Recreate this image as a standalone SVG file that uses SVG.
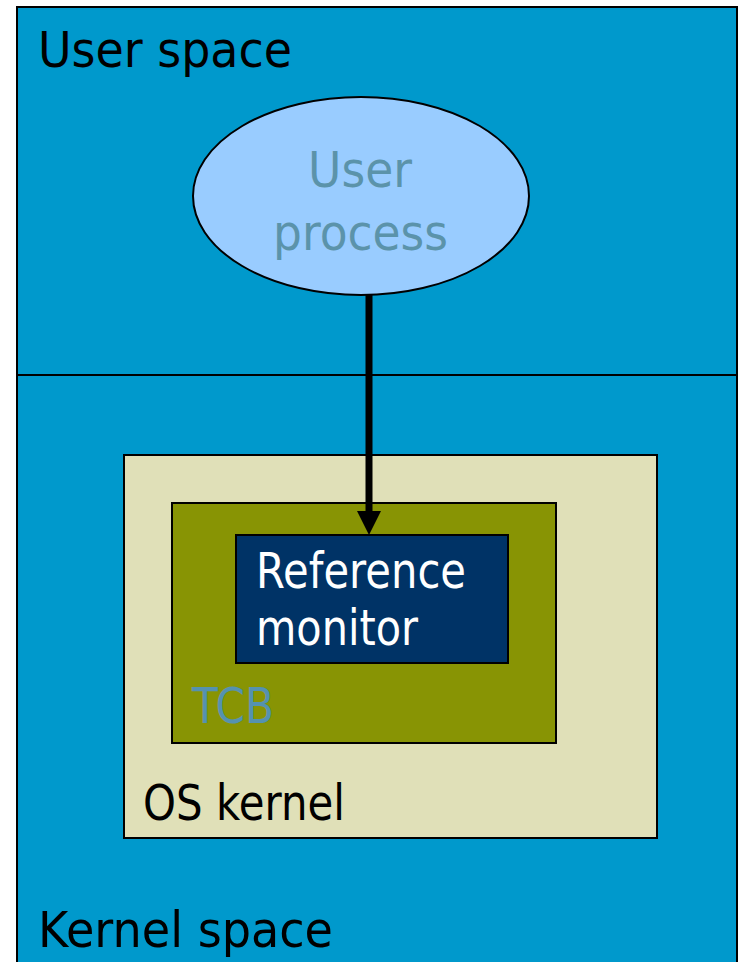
<svg xmlns="http://www.w3.org/2000/svg" width="742" height="962" viewBox="0 0 742 962">
  <style>
    text { font-family: "DejaVu Sans", "Liberation Sans", sans-serif; font-size: 50px; }
    .label { fill: #000000; }
    .frame { stroke: #000000; stroke-width: 2; }
  </style>
  <defs>
    <marker id="arrowhead" markerUnits="userSpaceOnUse" markerWidth="26" markerHeight="24" refX="0" refY="12" orient="auto">
      <path d="M0,0 L24,12 L0,24 Z" fill="#000000"/>
    </marker>
  </defs>
  <rect width="742" height="962" fill="#ffffff"/>

  <!-- address spaces -->
  <g id="spaces">
    <rect class="frame" x="17" y="7" width="720" height="1000" fill="#0099cc"/>
    <line class="frame" x1="17" y1="375" x2="737" y2="375"/>
    <text class="label" x="38" y="67" textLength="254" lengthAdjust="spacingAndGlyphs">User space</text>
    <text class="label" x="38" y="947" textLength="295" lengthAdjust="spacingAndGlyphs">Kernel space</text>
  </g>

  <g id="user-process">
    <ellipse class="frame" cx="361" cy="196" rx="168" ry="99" fill="#99ccff"/>
    <text x="308" y="187" fill="#5b93aa" textLength="104" lengthAdjust="spacingAndGlyphs">User</text>
    <text x="273" y="250" fill="#5b93aa" textLength="175" lengthAdjust="spacingAndGlyphs">process</text>
  </g>

  <g id="os-kernel">
    <rect class="frame" x="124" y="455" width="533" height="383" fill="#e0e0b8"/>
    <text class="label" x="143" y="820" textLength="202" lengthAdjust="spacingAndGlyphs">OS kernel</text>
  </g>

  <g id="tcb">
    <rect class="frame" x="172" y="503" width="384" height="240" fill="#889404"/>
    <text x="192" y="723" fill="#5592b0" textLength="82" lengthAdjust="spacingAndGlyphs">TCB</text>
  </g>

  <g id="reference-monitor">
    <rect class="frame" x="236" y="535" width="272" height="128" fill="#003366"/>
    <text x="256" y="588" fill="#ffffff" textLength="210" lengthAdjust="spacingAndGlyphs">Reference</text>
    <text x="256" y="645" fill="#ffffff" textLength="162" lengthAdjust="spacingAndGlyphs">monitor</text>
  </g>

  <g id="connectors">
    <line x1="369" y1="295" x2="369" y2="511" stroke="#000000" stroke-width="7" marker-end="url(#arrowhead)"/>
  </g>
</svg>
